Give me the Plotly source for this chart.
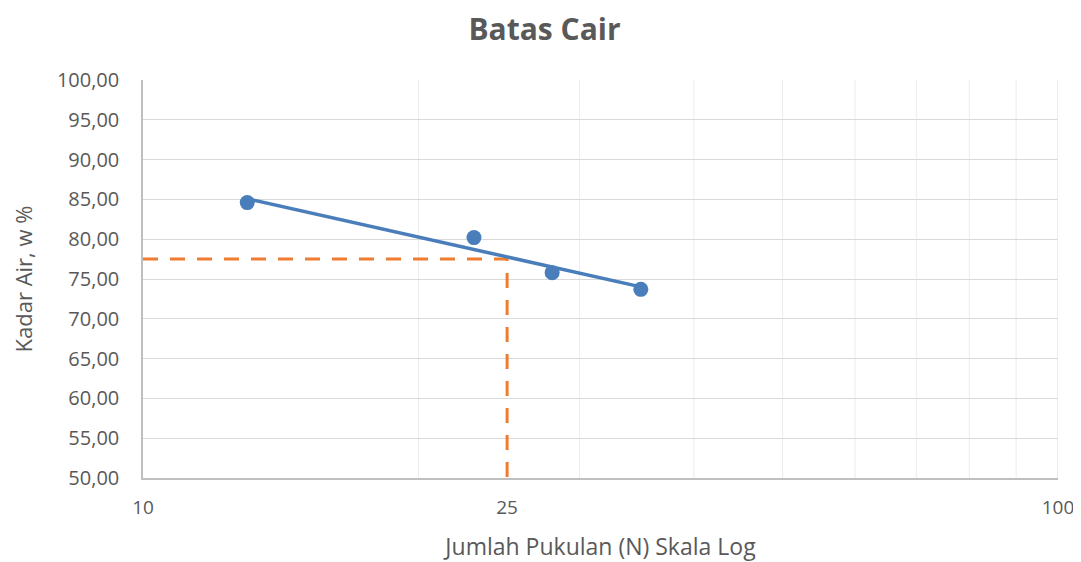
"""Grafik batas cair (liquid limit) – skala log"""

import numpy as np
import plotly.graph_objects as go

# data hasil uji
pukulan = [13, 23, 28, 35]
kadar_air = [84.6, 80.2, 75.8, 73.7]
batas_cair = 77.5
n_acuan = 25

x_ticks = [10, 25, 100]
x_labels = ["10", "25", "100"]
x_grid = [20, 30, 40, 50, 60, 70, 80, 90, 100]

BLUE = "#4a7ebb"
ORANGE = "#ed7d31"
TEXT = "#595959"
FONT = "Open Sans"

# garis tren logaritmik
b, a = np.polyfit(np.log10(pukulan), kadar_air, 1)
tren_x = [min(pukulan), max(pukulan)]
tren_y = [a + b * np.log10(v) for v in tren_x]

fig = go.Figure()

# grid vertikal (minor log), tanpa garis di 25
for g in x_grid:
    fig.add_shape(type="line", x0=g, x1=g, y0=50, y1=100,
                  xref="x", yref="y", layer="below",
                  line=dict(color="#d9d9d9" if g == 100 else "#ececec", width=1))

# garis putus-putus batas cair
fig.add_trace(go.Scatter(
    x=[10, n_acuan, n_acuan], y=[batas_cair, batas_cair, 50],
    mode="lines", line=dict(color=ORANGE, width=3, dash="15px,12px"),
    hoverinfo="skip", showlegend=False,
))

fig.add_trace(go.Scatter(
    x=tren_x, y=tren_y, mode="lines",
    line=dict(color=BLUE, width=3.5), showlegend=False,
))

fig.add_trace(go.Scatter(
    x=pukulan, y=kadar_air, mode="markers",
    marker=dict(color=BLUE, size=15), showlegend=False,
))

# halaman html punya margin body 8px, jadi ukuran figur dikurangi
fig.update_layout(
    width=1073, height=554,
    paper_bgcolor="white", plot_bgcolor="white",
    margin=dict(l=135, r=23, t=72, b=84, autoexpand=False),
    separators=",.",
    font=dict(family=FONT, color=TEXT),
    title=dict(text="<b>Batas Cair</b>", x=0.5, xanchor="center",
               y=0.962, yanchor="middle", yref="container",
               font=dict(size=30, color=TEXT, family=FONT)),
)

fig.update_xaxes(
    type="log", range=[1, 2],
    tickvals=x_ticks, ticktext=x_labels,
    tickfont=dict(size=19, color=TEXT),
    showgrid=False,
    showline=True, linecolor="#bfbfbf", linewidth=1.5,
    ticks="", ticklabelstandoff=11,
    title=dict(text="Jumlah Pukulan (N) Skala Log",
               font=dict(size=23, color=TEXT), standoff=23),
    zeroline=False, automargin=False,
)

fig.update_yaxes(
    range=[50, 100], dtick=5, tickformat=".2f",
    tickfont=dict(size=20, color=TEXT),
    showgrid=True, gridcolor="#d9d9d9", gridwidth=1,
    showline=True, linecolor="#bfbfbf", linewidth=1.5,
    ticks="", ticklabelstandoff=18,
    title=dict(text="Kadar Air, w %",
               font=dict(size=22, color=TEXT), standoff=22),
    zeroline=False, automargin=False,
)

fig.write_html("out.html")
